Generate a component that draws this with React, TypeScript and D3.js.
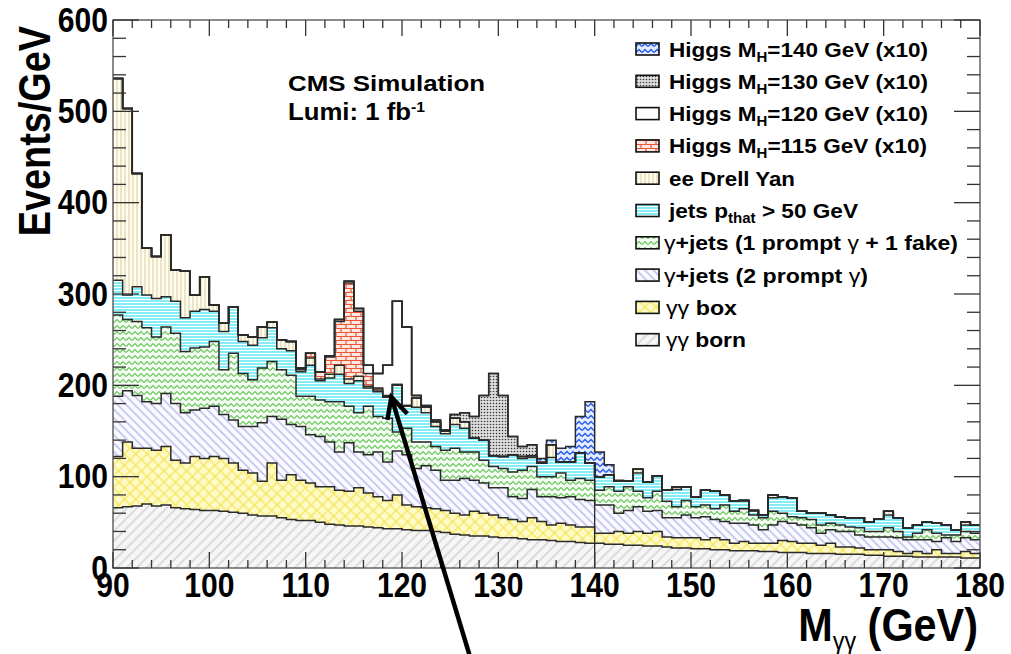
import React from "react";
import * as d3 from "d3";

const WIDTH = 1011;
const HEIGHT = 654;

// 1 GeV bins: lower edges 90 ... 179
const binLow = d3.range(90, 180);

// Background contributions per bin (events / GeV), bottom of the stack first
const ggBorn = [
  66, 67, 68, 70, 68, 69, 66, 65, 64, 63,
  63, 62, 61, 60, 58, 57, 57, 55, 53, 52,
  52, 50, 48, 47, 46, 46, 45, 44, 43, 43,
  42, 41, 41, 40, 39, 37, 36, 35, 35, 34,
  33, 33, 32, 31, 31, 30, 29, 29, 28, 27,
  27, 26, 26, 25, 25, 24, 24, 23, 22, 22,
  21, 21, 20, 20, 19, 19, 19, 18, 18, 17,
  17, 17, 16, 16, 16, 15, 15, 15, 14, 14,
  13, 13, 13, 12, 12, 12, 12, 12, 11, 11,
];
const ggBox = [
  56, 71, 63, 61, 61, 64, 52, 50, 58, 57,
  59, 58, 54, 47, 46, 38, 58, 41, 49, 44,
  41, 39, 41, 38, 38, 42, 37, 34, 31, 37,
  27, 26, 25, 25, 24, 23, 22, 27, 25, 24,
  22, 20, 19, 24, 20, 17, 20, 18, 17, 18,
  11, 12, 14, 13, 15, 14, 16, 11, 11, 11,
  12, 10, 13, 11, 8, 10, 8, 9, 9, 13,
  12, 10, 11, 9, 11, 8, 8, 7, 6, 6,
  7, 5, 3, 6, 4, 8, 4, 4, 7, 5,
];
const gjTwoPrompt = [
  66, 56, 58, 51, 51, 58, 62, 55, 51, 55,
  55, 48, 47, 48, 51, 64, 51, 67, 55, 59,
  53, 55, 49, 42, 53, 39, 42, 49, 42, 48,
  55, 42, 46, 42, 33, 36, 40, 34, 33, 30,
  33, 25, 25, 31, 27, 31, 28, 31, 30, 29,
  31, 31, 20, 25, 27, 24, 23, 21, 22, 25,
  22, 25, 20, 20, 22, 20, 20, 15, 20, 21,
  20, 20, 17, 13, 15, 17, 17, 14, 14, 14,
  14, 15, 15, 13, 15, 9, 17, 13, 15, 15,
];
const gjOneFake = [
  89, 78, 81, 81, 73, 73, 77, 67, 68, 67,
  71, 49, 73, 58, 51, 60, 60, 54, 54, 33,
  42, 40, 44, 55, 40, 43, 53, 39, 48, 21,
  29, 29, 26, 26, 33, 35, 29, 31, 25, 23,
  21, 27, 31, 25, 22, 22, 27, 18, 23, 22,
  16, 20, 24, 26, 17, 15, 21, 18, 12, 16,
  12, 13, 12, 18, 13, 16, 11, 13, 15, 9,
  7, 8, 9, 9, 7, 7, 5, 8, 6, 6,
  10, 7, 3, 7, 11, 9, 3, 7, 7, 7,
];
const qcdJets = [
  38, 27, 38, 36, 42, 33, 35, 37, 40, 41,
  33, 42, 51, 35, 38, 33, 37, 23, 27, 27,
  34, 21, 26, 30, 25, 35, 20, 27, 23, 51,
  24, 38, 32, 22, 18, 26, 26, 15, 22, 12,
  13, 19, 13, 10, 15, 21, 12, 20, 28, 19,
  15, 13, 11, 6, 20, 17, 17, 12, 19, 15,
  11, 16, 19, 11, 11, 9, 5, 3, 15, 18,
  21, 7, 7, 13, 9, 9, 10, 11, 10, 14,
  14, 15, 10, 9, 8, 11, 11, 6, 7, 9,
];
const drellYan = [
  221, 204, 124, 51, 46, 68, 34, 51, 18, 36,
  7, 9, 0, 7, 9, 12, 6, 10, 10, 2,
  8, 2, 4, 10, 5, 5, 2, 2, 1, 1,
  1, 10, 6, 5, 3, 7, 7, 0, 0, 0,
  0, 0, 2, 2, 0, 14, 0, 0, 0, 0,
  0, 0, 0, 0, 4, 0, 0, 0, 3, 0,
  0, 0, 0, 0, 0, 0, 0, 0, 3, 0,
  0, 0, 0, 0, 0, 0, 0, 0, 0, 0,
  4, 0, 0, 0, 0, 0, 0, 0, 3, 0,
];

// Higgs signals (scaled x10), listed from their first non-empty bin
const higgs115 = { first: 109, values: [2, 5, 8, 19, 48, 105, 71, 14, 2, 1] };
const higgs120 = { first: 112, values: [1, 2, 2, 3, 9, 16, 33, 91, 86, 3, 1] };
const higgs130 = { first: 122, values: [1, 2, 1, 4, 10, 24, 49, 90, 67, 20, 11, 12, 1] };
const higgs140 = { first: 134, values: [4, 5, 15, 17, 40, 67, 27, 11, 1] };

const yTickMajor = [0, 100, 200, 300, 400, 500, 600];
const xTickMajor = [90, 100, 110, 120, 130, 140, 150, 160, 170, 180];

const FONT = "'Liberation Sans', Arial, Helvetica, sans-serif";

const expand = (h: { first: number; values: number[] }) =>
  binLow.map((b) => {
    const k = b - h.first;
    return k >= 0 && k < h.values.length ? h.values[k] : 0;
  });

const layerKeys = ["born", "box", "two", "fake", "jets", "dy", "h115", "h120", "h130", "h140"];
const layerFill: Record<string, string> = {
  born: "url(#pBorn)",
  box: "url(#pBox)",
  two: "url(#pTwo)",
  fake: "url(#pFake)",
  jets: "url(#pJets)",
  dy: "url(#pDY)",
  h115: "url(#pH115)",
  h120: "#ffffff",
  h130: "url(#pH130)",
  h140: "url(#pH140)",
};

type Pt = { m: number; lo: number; hi: number };

export default function App() {
  const x = d3.scaleLinear().domain([90, 180]).range([113, 980]);
  const y = d3.scaleLinear().domain([0, 600]).range([568, 20]);

  const h115 = expand(higgs115);
  const h120 = expand(higgs120);
  const h130 = expand(higgs130);
  const h140 = expand(higgs140);

  const rows = binLow.map((b, i) => ({
    bin: b,
    born: ggBorn[i],
    box: ggBox[i],
    two: gjTwoPrompt[i],
    fake: gjOneFake[i],
    jets: qcdJets[i],
    dy: drellYan[i],
    h115: h115[i],
    h120: h120[i],
    h130: h130[i],
    h140: h140[i],
  }));

  const stacked = d3.stack<any>().keys(layerKeys)(rows);

  const toPts = (layer: any[]): Pt[] =>
    layer.flatMap((d: any, i: number) => [
      { m: binLow[i], lo: d[0], hi: d[1] },
      { m: binLow[i] + 1, lo: d[0], hi: d[1] },
    ]);

  const area = d3
    .area<Pt>()
    .x((p) => x(p.m))
    .y0((p) => y(p.lo))
    .y1((p) => y(p.hi));
  const topLine = d3
    .line<Pt>()
    .x((p) => x(p.m))
    .y((p) => y(p.hi));

  // edge of the 140 GeV sample drawn down to the axis
  const dyLayer = stacked[layerKeys.indexOf("dy")];
  const edgeIdx = binLow.indexOf(139);
  const edge140 = d3.line<[number, number]>()([
    [x(140), y(0)],
    [x(140), y(dyLayer[edgeIdx][1])],
  ]);

  const yMinor = d3.range(0, 601, 20);
  const xMinor = d3.range(90, 181, 2);

  // annotation arrow (data coordinates)
  const tip: [number, number] = [x(118.9), y(187)];
  const tail: [number, number] = [x(127.2), y(-102)];
  const ang = Math.atan2(tail[1] - tip[1], tail[0] - tip[0]);
  const armLen = 23;
  const spread = (27 * Math.PI) / 180;
  const armA: [number, number] = [tip[0] + armLen * Math.cos(ang - spread), tip[1] + armLen * Math.sin(ang - spread)];
  const armB: [number, number] = [tip[0] + armLen * Math.cos(ang + spread), tip[1] + armLen * Math.sin(ang + spread)];

  const legendRows = [
    { fill: "url(#pH140)", x: 669, len: 259, kind: "higgs", mass: "140" },
    { fill: "url(#pH130)", x: 669, len: 259, kind: "higgs", mass: "130" },
    { fill: "#ffffff", x: 669, len: 259, kind: "higgs", mass: "120" },
    { fill: "url(#pH115)", x: 669, len: 258, kind: "higgs", mass: "115" },
    { fill: "url(#pDY)", x: 669, len: 126, kind: "dy" },
    { fill: "url(#pJets)", x: 669, len: 189, kind: "jets" },
    { fill: "url(#pFake)", x: 664, len: 294, kind: "fake" },
    { fill: "url(#pTwo)", x: 664, len: 204, kind: "two" },
    { fill: "url(#pBox)", x: 666, len: 71, kind: "box" },
    { fill: "url(#pBorn)", x: 666, len: 80, kind: "born" },
  ];

  const legendText = (r: any) => {
    const g = { fontWeight: "normal" as const };
    switch (r.kind) {
      case "higgs":
        return (
          <>
            Higgs M<tspan fontSize={14} dy={5}>H</tspan>
            <tspan dy={-5}>={r.mass} GeV (x10)</tspan>
          </>
        );
      case "dy":
        return <>ee Drell Yan</>;
      case "jets":
        return (
          <>
            jets p<tspan fontSize={14} dy={5}>that</tspan>
            <tspan dy={-5}> &gt; 50 GeV</tspan>
          </>
        );
      case "fake":
        return (
          <>
            <tspan {...g}>γ</tspan>+jets (1 prompt <tspan {...g}>γ</tspan> + 1 fake)
          </>
        );
      case "two":
        return (
          <>
            <tspan {...g}>γ</tspan>+jets (2 prompt <tspan {...g}>γ</tspan>)
          </>
        );
      case "box":
        return (
          <>
            <tspan {...g}>γγ</tspan> box
          </>
        );
      default:
        return (
          <>
            <tspan {...g}>γγ</tspan> born
          </>
        );
    }
  };

  return (
    <svg
      width={WIDTH}
      height={HEIGHT}
      viewBox={`0 0 ${WIDTH} ${HEIGHT}`}
      style={{ position: "absolute", left: 0, top: 0, background: "#fff" }}
    >
      <defs>
        <pattern id="pBorn" patternUnits="userSpaceOnUse" width="7" height="7" patternTransform="rotate(45)">
          <rect width="7" height="7" fill="#f6f6f6" />
          <line x1="1" y1="0" x2="1" y2="7" stroke="#c6c6c6" strokeWidth="1.1" />
        </pattern>
        <pattern id="pBox" patternUnits="userSpaceOnUse" width="8" height="8" patternTransform="rotate(45)">
          <rect width="8" height="8" fill="#fffbc8" />
          <line x1="1" y1="0" x2="1" y2="8" stroke="#f3e14a" strokeWidth="1.1" />
          <line x1="0" y1="1" x2="8" y2="1" stroke="#f3e14a" strokeWidth="1.1" />
        </pattern>
        <pattern id="pTwo" patternUnits="userSpaceOnUse" width="6" height="6" patternTransform="rotate(-45)">
          <rect width="6" height="6" fill="#fbfbff" />
          <line x1="1" y1="0" x2="1" y2="6" stroke="#a4a4e8" strokeWidth="1.1" />
        </pattern>
        <pattern id="pFake" patternUnits="userSpaceOnUse" width="6" height="6">
          <rect width="6" height="6" fill="#f4fbf2" />
          <path d="M0,4.5 L3,1.5 L6,4.5" fill="none" stroke="#6cc65e" strokeWidth="1.2" />
        </pattern>
        <pattern id="pJets" patternUnits="userSpaceOnUse" width="4" height="3">
          <rect width="4" height="3" fill="#ffffff" />
          <line x1="0" y1="1" x2="4" y2="1" stroke="#52e6f4" strokeWidth="1.4" />
        </pattern>
        <pattern id="pDY" patternUnits="userSpaceOnUse" width="4" height="4">
          <rect width="4" height="4" fill="#fffdf0" />
          <line x1="1" y1="0" x2="1" y2="4" stroke="#ddd2a2" strokeWidth="1.1" />
        </pattern>
        <pattern id="pH115" patternUnits="userSpaceOnUse" width="10" height="8">
          <rect width="10" height="8" fill="#fde9e2" />
          <path d="M0,0.5 H10 M0,4.5 H10 M1,0.5 V4.5 M6,4.5 V8.5" fill="none" stroke="#ea5636" strokeWidth="1.2" />
        </pattern>
        <pattern id="pH130" patternUnits="userSpaceOnUse" width="3" height="3">
          <rect width="3" height="3" fill="#dedede" />
          <circle cx="1.5" cy="1.5" r="0.8" fill="#3a3a3a" />
        </pattern>
        <pattern id="pH140" patternUnits="userSpaceOnUse" width="6" height="6">
          <rect width="6" height="6" fill="#e4ecff" />
          <path d="M0,4.5 L3,1.5 L6,4.5" fill="none" stroke="#2c5ee8" strokeWidth="1.5" />
        </pattern>
        <clipPath id="plotClip">
          <rect x={113} y={20} width={867} height={548} />
        </clipPath>
      </defs>

      <rect x={0} y={0} width={WIDTH} height={HEIGHT} fill="#ffffff" />

      {/* stacked histograms */}
      <g clipPath="url(#plotClip)">
        {stacked.map((layer, k) => (
          <path key={"f" + k} d={area(toPts(layer as any)) || ""} fill={layerFill[layerKeys[k]]} stroke="none" />
        ))}
        {stacked.map((layer, k) => (
          <path
            key={"o" + k}
            d={topLine(toPts(layer as any)) || ""}
            fill="none"
            stroke="#2a2a2a"
            strokeWidth={1.5}
          />
        ))}
        <path d={edge140 || ""} stroke="#2a2a2a" strokeWidth={1.3} fill="none" />
      </g>

      {/* frame */}
      <rect x={113} y={20} width={867} height={548} fill="none" stroke="#5a5a5a" strokeWidth={1.4} />

      {/* ticks */}
      <g stroke="#333" strokeWidth={1.3}>
        {yMinor.map((v) => {
          const major = v % 100 === 0;
          const L = major ? 26 : 13;
          return (
            <g key={"yt" + v}>
              <line x1={113} x2={113 + L} y1={y(v)} y2={y(v)} />
              <line x1={980} x2={980 - L} y1={y(v)} y2={y(v)} />
            </g>
          );
        })}
        {xMinor.map((v) => {
          const major = v % 10 === 0;
          const L = major ? 16 : 8;
          return (
            <g key={"xt" + v}>
              <line x1={x(v)} x2={x(v)} y1={568} y2={568 - L} />
              <line x1={x(v)} x2={x(v)} y1={20} y2={20 + L} />
            </g>
          );
        })}
      </g>

      {/* tick labels */}
      <g fontFamily={FONT} fontWeight="bold" fontSize={35} fill="#000">
        {yTickMajor.map((v) => (
          <text key={"yl" + v} transform={`translate(108,${y(v) + 11.5}) scale(0.86,1)`} textAnchor="end">
            {v}
          </text>
        ))}
        {xTickMajor.map((v) => (
          <text key={"xl" + v} transform={`translate(${x(v)},597) scale(0.86,1)`} textAnchor="middle">
            {v}
          </text>
        ))}
      </g>

      {/* axis titles */}
      <text
        transform="translate(50,26) rotate(-90) scale(0.86,1)"
        textAnchor="end"
        fontFamily={FONT}
        fontWeight="bold"
        fontSize={44}
      >
        Events/GeV
      </text>
      <text
        transform="translate(978,641) scale(0.9,1)"
        textAnchor="end"
        fontFamily={FONT}
        fontWeight="bold"
        fontSize={46}
      >
        M
        <tspan fontSize={26} fontWeight="normal" dy={9}>
          γγ
        </tspan>
        <tspan dy={-9}> (GeV)</tspan>
      </text>

      {/* simulation label */}
      <text x={288} y={91} fontFamily={FONT} fontWeight="bold" fontSize={22} textLength={197} lengthAdjust="spacingAndGlyphs">
        CMS Simulation
      </text>
      <text x={288} y={120} fontFamily={FONT} fontWeight="bold" fontSize={23} textLength={137} lengthAdjust="spacingAndGlyphs">
        Lumi: 1 fb
        <tspan fontSize={14} dy={-8}>
          -1
        </tspan>
      </text>

      {/* legend */}
      <g fontFamily={FONT} fontWeight="bold" fontSize={21}>
        {legendRows.map((r, i) => {
          const cy = 49 + i * 32.3;
          return (
            <g key={"lg" + i}>
              <rect x={636} y={cy - 6} width={23} height={12} fill={r.fill} stroke="#111" strokeWidth={1.6} />
              <text x={r.x} y={cy + 7.5} textLength={r.len} lengthAdjust="spacingAndGlyphs">
                {legendText(r)}
              </text>
            </g>
          );
        })}
      </g>

      {/* annotation arrow */}
      <g stroke="#000" strokeWidth={4.5} fill="none" strokeLinecap="butt" strokeLinejoin="miter">
        <line x1={tail[0]} y1={tail[1]} x2={tip[0]} y2={tip[1]} />
        <polyline points={[armA, tip, armB].map((p) => p.join(",")).join(" ")} />
      </g>
    </svg>
  );
}
